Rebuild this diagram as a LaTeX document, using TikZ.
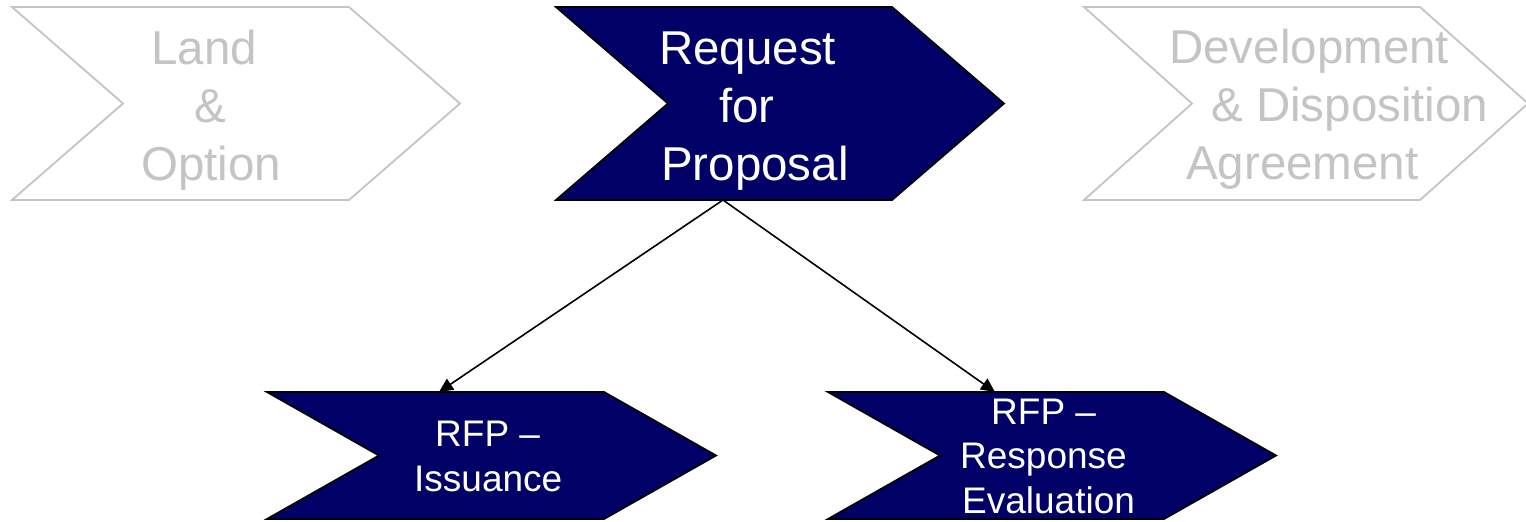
\documentclass[tikz,border=0pt]{standalone}
\usepackage{fontspec}
\setmainfont{Liberation Sans}
\usetikzlibrary{arrows.meta}
\definecolor{navy}{RGB}{0,0,102}
\definecolor{faded}{RGB}{196,196,196}
% chevron: left x, top y, width, height, point depth
\newcommand{\chevronpath}[5]{(#1,#2) -- ({#1+#3-#5},#2) -- ({#1+#3},{#2+#4/2})
  -- ({#1+#3-#5},{#2+#4}) -- (#1,{#2+#4}) -- ({#1+#5},{#2+#4/2}) -- cycle}
\tikzset{
  chev/.style={line width=1.8pt, line join=miter},
  activechev/.style={chev, draw=black, fill=navy},
  idlechev/.style={chev, draw=faded, fill=white},
  bigtext/.style={inner sep=0pt, anchor=base west, align=left,
    font=\fontsize{47.5}{58}\selectfont},
  smalltext/.style={inner sep=0pt, anchor=base west, align=left,
    font=\fontsize{37}{44.5}\selectfont},
  link/.style={line width=1.6pt, -{Triangle[length=14pt,width=13pt]}}
}
\begin{document}
\begin{tikzpicture}[x=1pt,y=-1pt]
  \useasboundingbox (0,0) rectangle (1526,522);

  % upper row of stages
  \path[idlechev] \chevronpath{12}{7}{448}{193}{111};
  \path[activechev] \chevronpath{556}{7}{448}{193}{112};
  \path[idlechev] \chevronpath{1084}{7}{444}{193}{108};

  % texts are anchored at the baseline of their last line
  \node[bigtext, text=faded] (land) at (141,180)
    {\hspace*{10pt}Land\\\hspace*{53pt}\&\\Option};
  \node[bigtext, text=white] (rfp) at (659,180)
    {Request\\\hspace*{60pt}for\\\hspace*{2pt}Proposal};
  \node[bigtext, text=faded] (dda) at (1169,179)
    {Development\\\hspace*{42pt}\& Disposition\\\hspace*{17pt}Agreement};

  % lower row of sub-steps
  \path[activechev] \chevronpath{267}{392}{449}{127}{112};
  \path[activechev] \chevronpath{828}{392}{448}{127}{112};

  \node[smalltext, text=white] (issue) at (414,491)
    {\hspace*{21pt}RFP –\\Issuance};
  \node[smalltext, text=white] (evaluate) at (960,513)
    {\hspace*{31pt}RFP –\\Response\\\hspace*{2pt}Evaluation};

  % links from the stage to its sub-steps
  \coordinate (rfpfoot) at (723,200);
  \coordinate (issuetop) at (439,392);
  \coordinate (evaltop) at (995,392);
  \draw[link] (rfpfoot) -- (issuetop);
  \draw[link] (rfpfoot) -- (evaltop);
\end{tikzpicture}
\end{document}
